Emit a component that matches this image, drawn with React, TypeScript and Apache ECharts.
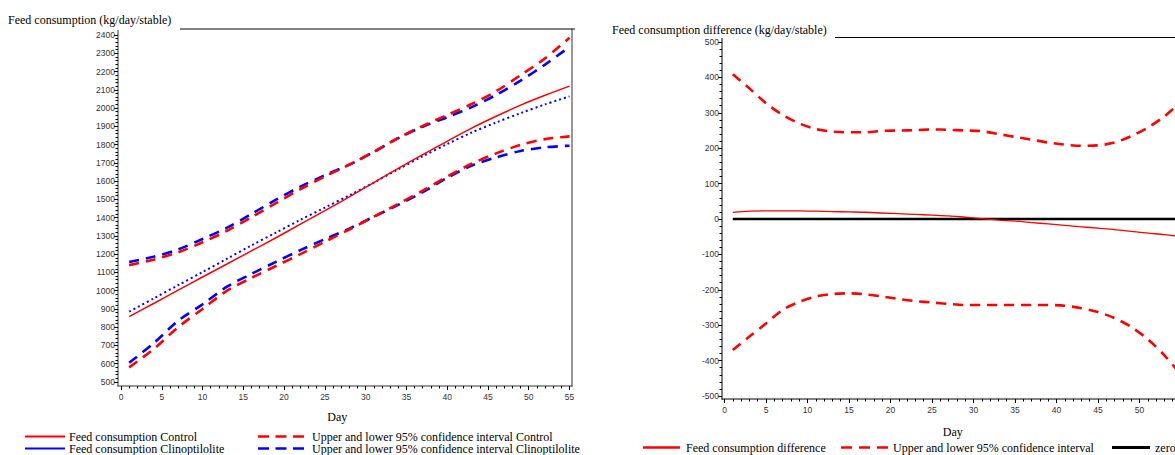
import React, { useEffect, useRef } from "react";
import * as echarts from "echarts";

// ---- Data ----
const leftDays = [1, 4, 7, 10, 13, 16, 19, 22, 25, 28, 31, 34, 37, 40, 43, 46, 49, 52, 55];
const controlMean = [858, 930, 1003, 1075, 1146, 1218, 1290, 1364, 1438, 1514, 1592, 1670, 1745, 1818, 1890, 1955, 2016, 2070, 2120];
const clinoMean = [885, 957, 1030, 1102, 1175, 1248, 1318, 1388, 1455, 1522, 1592, 1665, 1736, 1803, 1866, 1921, 1972, 2020, 2064];
const controlUpper = [1140, 1170, 1210, 1265, 1328, 1402, 1480, 1556, 1625, 1690, 1760, 1836, 1902, 1962, 2022, 2092, 2180, 2272, 2385];
const clinoUpper = [1157, 1186, 1226, 1283, 1345, 1420, 1498, 1570, 1632, 1690, 1760, 1835, 1898, 1950, 2005, 2072, 2150, 2238, 2335];
const controlLower = [580, 680, 800, 900, 1000, 1070, 1135, 1200, 1268, 1335, 1405, 1475, 1548, 1625, 1695, 1752, 1798, 1830, 1845];
const clinoLower = [605, 712, 835, 925, 1022, 1092, 1158, 1222, 1282, 1340, 1405, 1470, 1540, 1618, 1685, 1730, 1765, 1785, 1794];

const rightDays = [1, 3, 5, 7, 9, 11, 13, 15, 17, 19, 21, 23, 25, 27, 29, 31, 33, 35, 37, 39, 41, 43, 45, 47, 49, 51, 53, 55];
const diffUpper = [409, 369, 327, 294, 270, 254, 247, 245, 245, 249, 250, 251, 253, 252, 250, 248, 240, 232, 224, 216, 210, 207, 208, 216, 234, 258, 290, 330];
const diffMean = [19, 22, 23, 23, 23, 22, 21, 20, 19, 17, 15, 13, 11, 9, 5, 1, -3, -6, -10, -14, -18, -22, -26, -30, -35, -40, -44, -50];
const diffLower = [-370, -332, -295, -257, -234, -219, -212, -210, -213, -219, -226, -232, -236, -240, -243, -243, -243, -243, -243, -243, -245, -252, -263, -280, -305, -340, -385, -440];
const zeroDays = [1, 55];
const zeroValues = [0, 0];

const leftTitle = "Feed consumption (kg/day/stable)";
const rightTitle = "Feed consumption difference (kg/day/stable)";
const xName = "Day";
const leftLegend = [
  "Feed consumption Control",
  "Feed consumption Clinoptilolite",
  "Upper and lower 95% confidence interval Control",
  "Upper and lower 95% confidence interval Clinoptilolite",
];
const rightLegend = ["Feed consumption difference", "Upper and lower 95% confidence interval", "zero"];

const pair = (xs: number[], ys: number[]) => xs.map((x, i) => [x, ys[i]]);

const RED = "#ff0000";
const BLUE = "#0000ff";
const SERIF = "'Liberation Serif', 'Times New Roman', serif";
const SANS = "'Liberation Sans', Arial, sans-serif";

export default function App() {
  const ref = useRef<HTMLDivElement>(null);
  useEffect(() => {
    if (!ref.current) return;
    const chart = echarts.init(ref.current, undefined, { renderer: "svg" });

    const axisLabel = {
      fontFamily: SANS,
      fontSize: 8.5,
      color: "#333",
      formatter: (v: number) => String(v),
    };
    const xAxisBase = (gridIndex: number, offset: number, gap: number, pad: number[], showMax: boolean) => ({
      type: "value",
      gridIndex,
      min: 0,
      max: 55,
      interval: 5,
      offset,
      name: xName,
      nameLocation: "middle",
      nameGap: gap,
      nameTextStyle: { fontFamily: SERIF, fontSize: 12, color: "#000", padding: pad },
      axisLine: { show: false, onZero: false },
      axisTick: { show: true, length: 4, lineStyle: { color: "#000", width: 1 } },
      minorTick: { show: true, splitNumber: 5, length: 2.5, lineStyle: { color: "#000", width: 1 } },
      splitLine: { show: false },
      minorSplitLine: { show: false },
      axisLabel: { ...axisLabel, margin: 6, showMaxLabel: showMax },
    });
    const yAxisBase = (gridIndex: number, min: number, max: number, offset: number) => ({
      type: "value",
      gridIndex,
      min,
      max,
      interval: 100,
      offset,
      axisLine: { show: false, onZero: false },
      axisTick: { show: true, length: 4, lineStyle: { color: "#000", width: 1 } },
      minorTick: { show: true, splitNumber: 5, length: 2.5, lineStyle: { color: "#000", width: 1 } },
      splitLine: { show: false },
      minorSplitLine: { show: false },
      axisLabel: { ...axisLabel, margin: 3 },
    });

    const line = (
      name: string,
      xi: number,
      xs: number[],
      ys: number[],
      color: string,
      width: number,
      type: any,
      z = 2
    ) => ({
      name,
      type: "line",
      xAxisIndex: xi,
      yAxisIndex: xi,
      data: pair(xs, ys),
      smooth: 0.3,
      symbol: "none",
      z,
      lineStyle: { color, width, type, cap: "butt" },
      emphasis: { disabled: true },
    });

    const legendLine = (x1: number, x2: number, y: number, color: string, width: number, dash?: number[]) => ({
      type: "line",
      silent: true,
      shape: { x1, y1: y, x2, y2: y },
      style: { stroke: color, lineWidth: width, lineDash: dash, lineCap: "butt" },
    });
    const txt = (x: number, y: number, text: string, size = 12) => ({
      type: "text",
      x,
      y,
      silent: true,
      style: {
        text,
        fontFamily: SERIF,
        fontSize: size,
        fill: "#000",
        verticalAlign: "middle",
        textVerticalAlign: "middle",
      },
    });
    const frame = (x1: number, y1: number, x2: number, y2: number, color = "#333", w = 1) => ({
      type: "line",
      silent: true,
      shape: { x1, y1, x2, y2 },
      style: { stroke: color, lineWidth: w },
    });

    const option: any = {
      animation: false,
      grid: [
        { left: 121, top: 35, width: 448.5, height: 347, outerBoundsMode: "none", containLabel: false },
        { left: 724.5, top: 42, width: 456.5, height: 354, outerBoundsMode: "none", containLabel: false },
      ],
      xAxis: [xAxisBase(0, 4, 25, [0, 16, 0, 0], true), xAxisBase(1, 3, 27, [0, 0, 0, 0], false)],
      yAxis: [yAxisBase(0, 500, 2400, 3), yAxisBase(1, -500, 500, 2.5)],
      series: [
        line("Upper 95% CI Clinoptilolite", 0, leftDays, clinoUpper, BLUE, 2.6, [10, 7]),
        line("Lower 95% CI Clinoptilolite", 0, leftDays, clinoLower, BLUE, 2.6, [10, 7]),
        line("Upper 95% CI Control", 0, leftDays, controlUpper, RED, 2.6, [10, 7], 3),
        line("Lower 95% CI Control", 0, leftDays, controlLower, RED, 2.6, [10, 7], 3),
        line("Feed consumption Clinoptilolite", 0, leftDays, clinoMean, BLUE, 2, [2, 3]),
        line("Feed consumption Control", 0, leftDays, controlMean, RED, 1.5, "solid", 3),
        line("zero", 1, zeroDays, zeroValues, "#000", 2.5, "solid"),
        line("Upper 95% CI", 1, rightDays, diffUpper, RED, 2.6, [10, 7], 3),
        line("Lower 95% CI", 1, rightDays, diffLower, RED, 2.6, [10, 7], 3),
        line("Feed consumption difference", 1, rightDays, diffMean, RED, 1.3, "solid", 3),
      ],
      graphic: [
        // frames
        frame(118, 30, 118, 386.5),
        frame(117.5, 386, 572.5, 386),
        frame(572, 29, 572, 386.5),
        frame(180, 29, 575, 29, "#000"),
        frame(722, 38, 722, 399.5, "#000"),
        frame(721.5, 399, 1175, 399, "#000"),
        frame(835, 37.5, 1175, 37.5, "#000"),
        // titles
        txt(8, 20, leftTitle, 12),
        txt(612, 30, rightTitle, 12),
        // left legend
        legendLine(25, 65, 436.5, RED, 2),
        txt(69, 436.5, leftLegend[0]),
        legendLine(25, 65, 448.5, BLUE, 2),
        txt(69, 448.5, leftLegend[1]),
        legendLine(258, 304, 436.5, RED, 2.5, [11, 6.5]),
        txt(312, 436.5, leftLegend[2]),
        legendLine(258, 304, 448.5, BLUE, 2.5, [11, 6.5]),
        txt(312, 448.5, leftLegend[3]),
        // right legend
        legendLine(643, 680, 447.5, RED, 2.5),
        txt(686, 447.5, rightLegend[0]),
        legendLine(841, 888, 447.5, RED, 2.5, [11, 7]),
        txt(893, 447.5, rightLegend[1]),
        legendLine(1112, 1150, 447.5, "#000", 3),
        txt(1155, 447.5, rightLegend[2]),
      ],
    };
    chart.setOption(option);
    return () => chart.dispose();
  }, []);
  return (
    <div
      ref={ref}
      style={{ position: "fixed", left: 0, top: 0, width: 1175, height: 455, background: "#fff" }}
    />
  );
}
